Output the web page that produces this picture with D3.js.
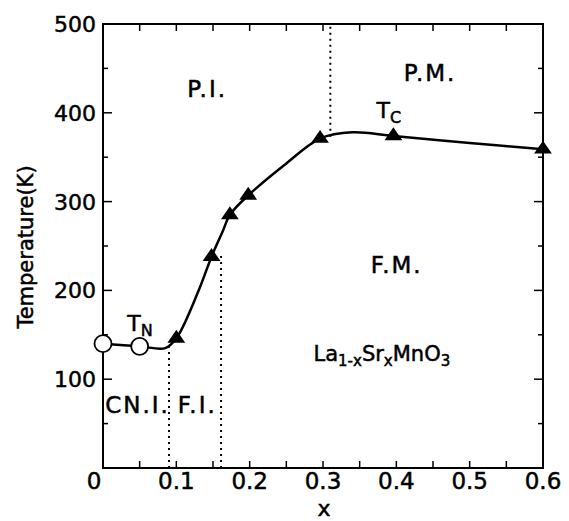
<!DOCTYPE html>
<html>
<head>
<meta charset="utf-8">
<script src="https://cdn.jsdelivr.net/npm/d3@7"></script>
<style>
  body { margin: 0; background: #fff; }
  text { font-family: "DejaVu Sans", sans-serif; fill: #000; stroke: #000; stroke-width: 0.5px; }
</style>
</head>
<body>
<div id="chart-area"></div>
<script>
// --- data ---
const xTicks = [0, 0.1, 0.2, 0.3, 0.4, 0.5, 0.6];
const yTicks = [100, 200, 300, 400, 500];
// open circles (T_N)
const neelX = [0, 0.05];
const neelT = [140, 137];
// filled triangles (T_C and transition points)
const curieX = [0.1, 0.148, 0.173, 0.198, 0.296, 0.396, 0.6];
const curieT = [146, 238, 285, 307, 371, 374, 359];
// the drawn phase boundary
const lineX = [0, 0.05, 0.085, 0.1, 0.13, 0.148, 0.163, 0.173, 0.198, 0.25, 0.296, 0.34, 0.396, 0.5, 0.6];
const lineT = [140, 137, 135, 146, 199, 238, 266, 285, 307, 343, 371, 378, 374, 366, 359];
// dotted phase separators: x, from T, to T
const dividerX = [0.09, 0.161, 0.31];
const dividerFrom = [0, 0, 373];
const dividerTo = [136, 240, 500];

const WIDTH = 569, HEIGHT = 521;
const svg = d3.select("#chart-area").append("svg")
  .attr("width", WIDTH).attr("height", HEIGHT);

const x = d3.scaleLinear().domain([0, 0.6]).range([103, 543]);
const y = d3.scaleLinear().domain([0, 500]).range([468, 24]);

// frame
svg.append("rect")
  .attr("x", x(0)).attr("y", y(500))
  .attr("width", x(0.6) - x(0)).attr("height", y(0) - y(500))
  .attr("fill", "none").attr("stroke", "#000").attr("stroke-width", 2);

// ticks, all pointing inward
const xMinor = d3.range(1, 12).map(i => i * 0.05);
const yMinor = d3.range(1, 10).map(i => i * 50);
const tickG = svg.append("g").attr("stroke", "#000").attr("stroke-width", 1.5);
xMinor.forEach(v => {
  tickG.append("line").attr("x1", x(v)).attr("x2", x(v)).attr("y1", y(0)).attr("y2", y(0) - 7);
  tickG.append("line").attr("x1", x(v)).attr("x2", x(v)).attr("y1", y(500)).attr("y2", y(500) + 7);
});
yMinor.forEach(v => {
  const len = v % 100 === 0 ? 9 : 5;
  tickG.append("line").attr("x1", x(0)).attr("x2", x(0) + len).attr("y1", y(v)).attr("y2", y(v));
  tickG.append("line").attr("x1", x(0.6)).attr("x2", x(0.6) - len).attr("y1", y(v)).attr("y2", y(v));
});

// tick labels
svg.append("g").selectAll("text").data(xTicks).join("text")
  .attr("x", d => x(d) - (d === 0 ? 9 : 0))
  .attr("y", 489)
  .attr("text-anchor", "middle")
  .attr("font-size", "23px")
  .text(d => d === 0 ? "0" : d3.format(".1f")(d));

svg.append("g").selectAll("text").data(yTicks).join("text")
  .attr("x", 96)
  .attr("y", d => y(d))
  .attr("dy", "0.36em")
  .attr("text-anchor", "end")
  .attr("font-size", "22px")
  .text(d => d);

// axis titles
svg.append("text")
  .attr("x", 324).attr("y", 515.5)
  .attr("text-anchor", "middle").attr("font-size", "22px")
  .text("x");
svg.append("text")
  .attr("transform", `translate(33, 247) rotate(-90)`)
  .attr("text-anchor", "middle").attr("font-size", "21px")
  .text("Temperature(K)");

// dotted separators
svg.append("g").selectAll("line").data(dividerX).join("line")
  .attr("x1", d => x(d)).attr("x2", d => x(d))
  .attr("y1", (d, i) => y(dividerFrom[i])).attr("y2", (d, i) => y(dividerTo[i]))
  .attr("stroke", "#000").attr("stroke-width", 2)
  .attr("stroke-dasharray", "2,4");

// boundary curve
const line = d3.line()
  .x(d => x(d[0])).y(d => y(d[1]))
  .curve(d3.curveCatmullRom.alpha(0.5));
svg.append("path")
  .datum(lineX.map((v, i) => [v, lineT[i]]))
  .attr("d", line)
  .attr("fill", "none").attr("stroke", "#000").attr("stroke-width", 2.5);

// markers
svg.append("g").selectAll("path").data(curieX).join("path")
  .attr("transform", (d, i) => `translate(${x(d)},${y(curieT[i])}) scale(1.2,1)`)
  .attr("d", d3.symbol(d3.symbolTriangle, 95))
  .attr("fill", "#000");

svg.append("g").selectAll("circle").data(neelX).join("circle")
  .attr("cx", d => x(d)).attr("cy", (d, i) => y(neelT[i]))
  .attr("r", 8.5)
  .attr("fill", "#fff").attr("stroke", "#000").attr("stroke-width", 1.8);

// region labels
const label = (tx, ty, s) => svg.append("text")
  .attr("x", x(tx)).attr("y", y(ty))
  .attr("font-size", "23px")
  .attr("letter-spacing", "2px")
  .text(s);
label(0.115, 418, "P.I.");
label(0.41, 436, "P.M.");
label(0.365, 220, "F.M.");
label(0.003, 62, "CN.I.");
label(0.102, 62, "F.I.");

// T_N and T_C
const sub = (tx, ty, main, s) => {
  const t = svg.append("text").attr("x", x(tx)).attr("y", y(ty)).attr("font-size", "22px");
  t.append("tspan").text(main);
  t.append("tspan").attr("dy", 5).attr("font-size", "16px").text(s);
};
sub(0.033, 154, "T", "N");
sub(0.373, 394, "T", "C");

// formula
const f = svg.append("text").attr("x", x(0.287)).attr("y", y(120)).attr("font-size", "21px");
[["La", false], ["1-x", true], ["Sr", false], ["x", true], ["MnO", false], ["3", true]].forEach(([s, isSub]) => {
  f.append("tspan")
    .attr("dy", isSub ? 5 : -5)
    .attr("font-size", isSub ? "15px" : "21px")
    .text(s);
});
f.select("tspan").attr("dy", 0);
</script>
</body>
</html>
